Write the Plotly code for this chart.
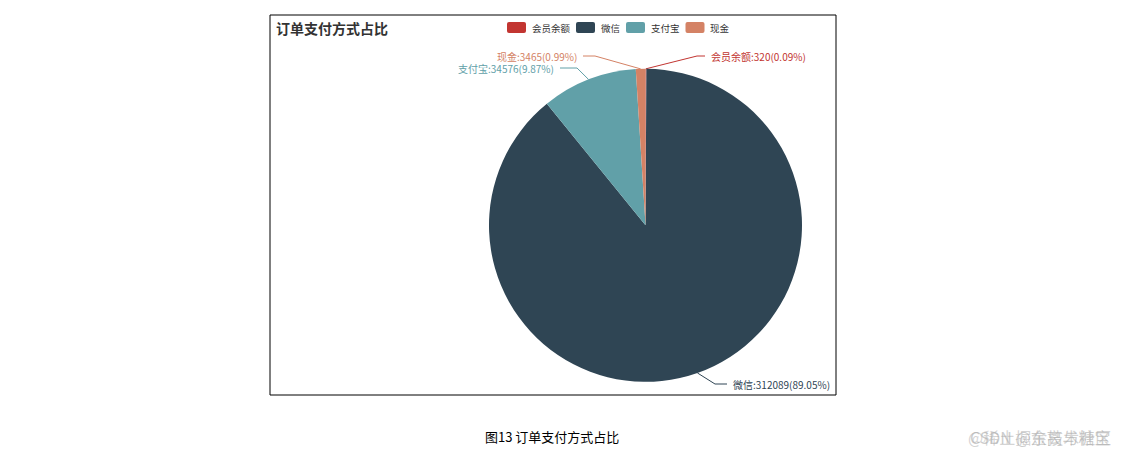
import numpy as np
import plotly.graph_objects as go

# data
methods = ['会员余额', '微信', '支付宝', '现金']
amounts = [320, 312089, 34576, 3465]
colors = ['#c23531', '#2f4554', '#61a0a8', '#d48265']

title = '订单支付方式占比'
caption = '图13 订单支付方式占比'

# page body has an 8px margin, so the figure is a bit smaller than the window
OFF = 8
W, H = 1123 - 2 * OFF, 458 - 2 * OFF
FONT = 'Noto Sans CJK SC'

# layout (window pixels)
box = (270, 15, 836, 395)
cx, cy, rad = 645.5, 225.3, 156.5
# elbow point, line end, and which side the text goes
leaders = [
    ((697, 56), (705, 56), 'left'),
    ((715, 384), (727, 384), 'left'),
    ((577, 68), (560, 68), 'right'),
    ((595, 56), (583, 56), 'right'),
]

total = float(sum(amounts))
pct = [a / total * 100 for a in amounts]

fig = go.Figure()

fig.add_trace(go.Pie(
    labels=methods, values=amounts, sort=False, direction='clockwise',
    rotation=0, marker=dict(colors=colors, line=dict(width=0)),
    textinfo='none', hoverinfo='skip', showlegend=False,
    domain=dict(x=[(cx - rad - OFF) / W, (cx + rad - OFF) / W],
                y=[(H + OFF - cy - rad) / H, (H + OFF - cy + rad) / H]),
))

shapes = [dict(type='rect', xref='x', yref='y', x0=box[0], y0=box[1],
               x1=box[2], y1=box[3], line=dict(color='#000', width=1))]
annotations = []

# leader lines + labels
start = 0.0
for name, amt, p, col, (elbow, end, side) in zip(methods, amounts, pct, colors, leaders):
    mid = (start + amt / 2) / total * 2 * np.pi
    start += amt
    ex = cx + rad * np.sin(mid)
    ey = cy - rad * np.cos(mid)
    fig.add_trace(go.Scatter(
        x=[ex, elbow[0], end[0]], y=[ey, elbow[1], end[1]], mode='lines',
        line=dict(color=col, width=1), hoverinfo='skip', showlegend=False))
    annotations.append(dict(
        x=end[0] + (4 if side == 'left' else -4), y=end[1], xref='x', yref='y',
        text='%s:%d(%.2f%%)' % (name, amt, p), showarrow=False,
        xanchor=side, yanchor='middle', font=dict(family=FONT, size=10, color=col)))

# legend drawn by hand, echarts style
lx = 507
for name, col in zip(methods, colors):
    shapes.append(dict(type='path', xref='x', yref='y',
                       path='M %f,22 L %f,22 Q %f,22 %f,24 L %f,31 Q %f,33 %f,33 '
                            'L %f,33 Q %f,33 %f,31 L %f,24 Q %f,22 %f,22 Z' % (
                                lx + 2, lx + 17, lx + 19, lx + 19, lx + 19, lx + 19, lx + 17,
                                lx + 2, lx, lx, lx, lx, lx + 2),
                       fillcolor=col, line=dict(width=0)))
    annotations.append(dict(x=lx + 22.5, y=27.5, xref='x', yref='y', text=name,
                            showarrow=False, xanchor='left', yanchor='middle',
                            font=dict(family=FONT, size=9.5, color='#333')))
    lx += 22.5 + 9.5 * len(name) + 8.5

annotations.append(dict(x=274, y=28, xref='x', yref='y', text='<b>%s</b>' % title,
                        showarrow=False, xanchor='left', yanchor='middle',
                        font=dict(family=FONT, size=14, color='#333')))
annotations.append(dict(x=483, y=436, xref='x', yref='y', text=caption,
                        showarrow=False, xanchor='left', yanchor='middle',
                        font=dict(family=FONT, size=13, color='#000')))
annotations.append(dict(x=1113, y=437, xref='x', yref='y', text='CSDN @东离与糖宝',
                        showarrow=False, xanchor='right', yanchor='middle',
                        font=dict(family=FONT, size=16, color='rgba(170,170,170,0.6)')))
annotations.append(dict(x=1113, y=437, xref='x', yref='y', text='@稀土掘金技术社区',
                        showarrow=False, xanchor='right', yanchor='middle',
                        font=dict(family=FONT, size=16, color='rgba(170,170,170,0.5)')))

fig.update_layout(
    width=W, height=H, margin=dict(l=0, r=0, t=0, b=0),
    paper_bgcolor='white', plot_bgcolor='rgba(0,0,0,0)',
    xaxis=dict(range=[OFF, OFF + W], visible=False, fixedrange=True),
    yaxis=dict(range=[OFF + H, OFF], visible=False, fixedrange=True),
    shapes=shapes, annotations=annotations, showlegend=False,
)

fig.write_html('out.html')
